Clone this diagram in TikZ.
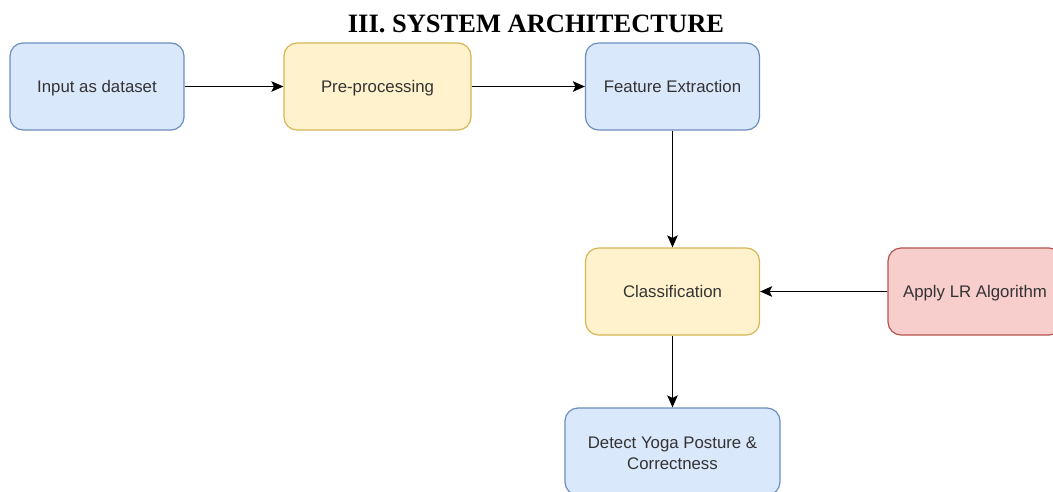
\documentclass[tikz,border=0pt]{standalone}
\usepackage{fontspec}
\setmainfont{Liberation Serif}
\newfontfamily\boxfont{Liberation Sans}
\usetikzlibrary{arrows.meta}
\definecolor{bluefill}{HTML}{DAE8FC}
\definecolor{bluedraw}{HTML}{6C8EBF}
\definecolor{yelfill}{HTML}{FFF2CC}
\definecolor{yeldraw}{HTML}{D6B656}
\definecolor{redfill}{HTML}{F8CECC}
\definecolor{reddraw}{HTML}{B85450}
\definecolor{txt}{HTML}{333333}
\tikzset{
  box/.style={rounded corners=13pt, line width=1.2pt, minimum width=174pt, minimum height=87pt,
    inner sep=0pt, align=center, text=txt, font=\boxfont\fontsize{16.8}{21}\selectfont},
  oneline/.style={text height=14pt, text depth=2pt},
  bluebox/.style={box, draw=bluedraw, fill=bluefill},
  yelbox/.style={box, draw=yeldraw, fill=yelfill},
  redbox/.style={box, draw=reddraw, fill=redfill},
  conn/.style={line width=1.5pt, -{Stealth[length=12pt,width=10.5pt,inset=2.5pt]}}
}
\begin{document}
\begin{tikzpicture}[x=1pt,y=-1pt]
\useasboundingbox (0,0) rectangle (1053,491);
\clip (0,0) rectangle (1053,491);
\fill[white] (0,0) rectangle (1053,491);
\node[font=\bfseries\fontsize{26.5}{30}\selectfont, inner sep=0pt, anchor=base] (title) at (536,32.5) {III. SYSTEM ARCHITECTURE};
\node[bluebox, oneline] (input) at (97,86.5) {Input as dataset};
\node[yelbox, oneline, minimum width=187pt] (pre) at (377.5,86.5) {Pre-processing};
\node[bluebox, oneline] (feat) at (672.5,86.5) {Feature Extraction};
\node[yelbox, oneline] (class) at (672.5,291.5) {Classification};
\node[redbox, oneline] (lr) at (975,291.5) {Apply LR Algorithm};
\node[bluebox, minimum width=215pt] (detect) at (672.5,451.5) {};
\node[font=\boxfont\fontsize{16.8}{21}\selectfont, text=txt, align=center, inner sep=0pt] (detecttext) at ([yshift=-2pt]detect.center) {Detect Yoga Posture \&\\Correctness};
\draw[conn] (input) -- (pre);
\draw[conn] (pre) -- (feat);
\draw[conn] (feat) -- (class);
\draw[conn] (lr) -- (class);
\draw[conn] (class) -- (detect);
\end{tikzpicture}
\end{document}
